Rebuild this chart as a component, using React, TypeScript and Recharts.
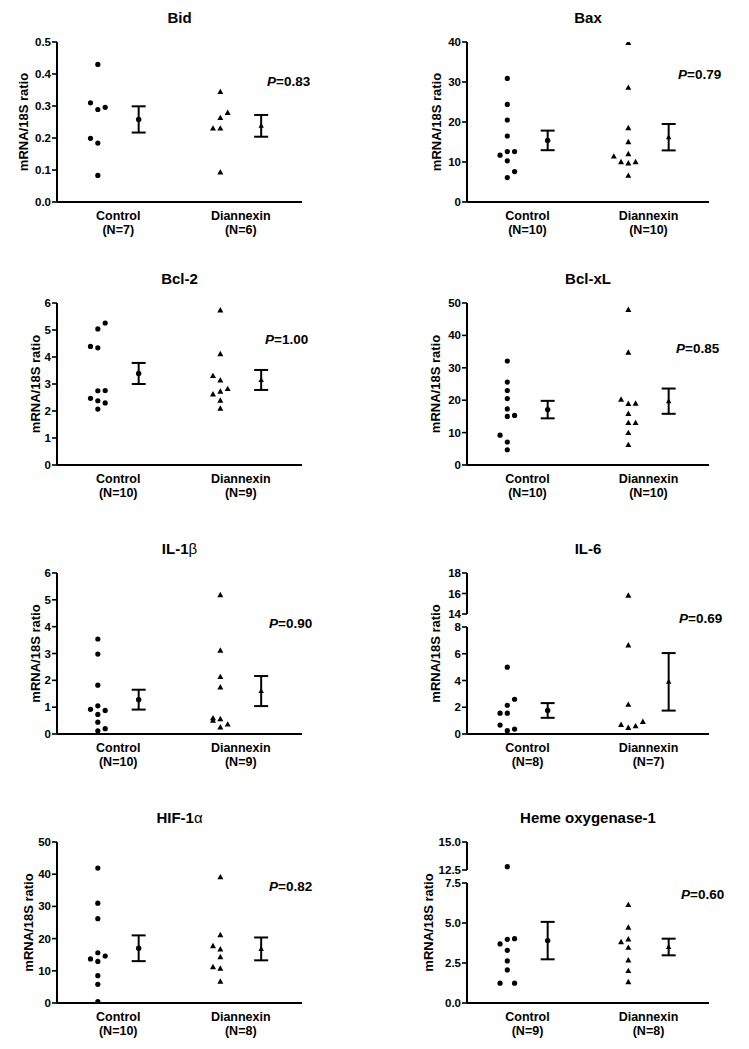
import React from "react";
import { ScatterChart, Scatter, XAxis, YAxis, ErrorBar } from "recharts";

const FONT = '"Liberation Sans", Arial, Helvetica, sans-serif';

const groups = ["Control", "Diannexin"];
const titles = ["Bid", "Bax", "Bcl-2", "Bcl-xL", "IL-1β", "IL-6", "HIF-1α", "Heme oxygenase-1"];
const pValues = ["0.83", "0.79", "1.00", "0.85", "0.90", "0.69", "0.82", "0.60"];

// samples; *Slot = side-by-side column used so dots don't overlap
const bidControl = [0.43, 0.31, 0.289, 0.296, 0.199, 0.184, 0.083];
const bidControlSlot = [0, -1, 0, 1, -1, 0, 0];
const bidDiannexin = [0.344, 0.263, 0.279, 0.23, 0.23, 0.093];
const bidDiannexinSlot = [0, 0, 1, -1, 0, 0];
const bidMean = [0.258, 0.238];
const bidSem = [0.041, 0.034];
const bidTicks = [0, 0.1, 0.2, 0.3, 0.4, 0.5];

const baxControl = [30.9, 24.4, 20.5, 16.5, 12.6, 12.6, 11.7, 10.3, 7.6, 6.1];
const baxControlSlot = [0, 0, 0, 0, 0, 1, -1, 0, 1, 0];
const baxDiannexin = [39.8, 28.6, 18.5, 15.0, 12.0, 11.4, 10.0, 10.0, 9.7, 6.6];
const baxDiannexinSlot = [0, 0, 0, 0, 0, -2, -1, 1, 0, 0];
const baxMean = [15.4, 16.2];
const baxSem = [2.45, 3.3];
const baxTicks = [0, 10, 20, 30, 40];

const bcl2Control = [5.26, 5.04, 4.39, 4.34, 2.75, 2.76, 2.47, 2.38, 2.3, 2.07];
const bcl2ControlSlot = [1, 0, -1, 0, 0, 1, -1, 0, 1, 0];
const bcl2Diannexin = [5.73, 4.11, 3.3, 3.14, 2.62, 2.72, 2.82, 2.39, 2.09];
const bcl2DiannexinSlot = [0, 0, -1, 0, -1, 0, 1, 0, 0];
const bcl2Mean = [3.39, 3.15];
const bcl2Sem = [0.39, 0.37];
const bcl2Ticks = [0, 1, 2, 3, 4, 5, 6];

const bclxlControl = [32.1, 25.6, 23.0, 20.5, 17.3, 15.0, 15.3, 9.2, 7.1, 4.7];
const bclxlControlSlot = [0, 0, 0, 0, 0, 0, 1, -1, 0, 0];
const bclxlDiannexin = [47.9, 34.7, 20.2, 18.9, 19.0, 15.8, 13.0, 13.0, 9.9, 6.2];
const bclxlDiannexinSlot = [0, 0, -1, 0, 1, 0, 0, 1, 0, 0];
const bclxlMean = [17.1, 19.7];
const bclxlSem = [2.7, 3.9];
const bclxlTicks = [0, 10, 20, 30, 40, 50];

const il1bControl = [3.54, 2.98, 1.82, 1.05, 0.92, 0.88, 0.73, 0.44, 0.2, 0.12];
const il1bControlSlot = [0, 0, 0, 0, -1, 1, 0, 0, 1, 0];
const il1bDiannexin = [5.18, 3.11, 2.13, 1.74, 0.59, 0.5, 0.56, 0.36, 0.25];
const il1bDiannexinSlot = [0, 0, 0, 0, -1, -1, 0, 1, 0];
const il1bMean = [1.28, 1.6];
const il1bSem = [0.37, 0.56];
const il1bTicks = [0, 1, 2, 3, 4, 5, 6];

const il6Control = [5.0, 2.6, 2.15, 1.56, 1.56, 0.67, 0.25, 0.37];
const il6ControlSlot = [0, 1, 0, -1, 0, -1, 0, 1];
const il6Diannexin = [15.8, 6.64, 2.2, 0.69, 0.47, 0.59, 0.92];
const il6DiannexinSlot = [0, 0, 0, -1, 0, 1, 2];
const il6Mean = [1.76, 3.9];
const il6Sem = [0.55, 2.15];
const il6Ticks = [0, 2, 4, 6, 8];
const il6TicksHigh = [14, 16, 18];

const hifControl = [41.9, 31.0, 26.2, 15.6, 14.6, 13.7, 12.9, 8.5, 5.8, 0.4];
const hifControlSlot = [0, 0, 0, 0, 1, -1, 0, 0, 0, 0];
const hifDiannexin = [39.1, 21.1, 17.7, 16.7, 14.3, 11.2, 10.7, 6.7];
const hifDiannexinSlot = [0, 0, -1, 0, 0, -1, 0, 0];
const hifMean = [17.0, 16.8];
const hifSem = [4.0, 3.55];
const hifTicks = [0, 10, 20, 30, 40, 50];

const hemeControl = [12.8, 4.02, 3.98, 3.69, 3.29, 2.63, 2.07, 1.24, 1.24];
const hemeControlSlot = [0, 1, 0, -1, 0, 0, 0, -1, 1];
const hemeDiannexin = [6.13, 4.72, 3.81, 3.98, 3.46, 2.67, 2.01, 1.31];
const hemeDiannexinSlot = [0, 0, -1, 0, 0, 0, 0, 0];
const hemeMean = [3.9, 3.5];
const hemeSem = [1.17, 0.52];
const hemeTicks = [0, 2.5, 5, 7.5];
const hemeTicksHigh = [12.5, 15];

const panels = [
  { ctrl: bidControl, ctrlSlot: bidControlSlot, dian: bidDiannexin, dianSlot: bidDiannexinSlot, mean: bidMean, sem: bidSem, ticks: bidTicks, dec: 1 },
  { ctrl: baxControl, ctrlSlot: baxControlSlot, dian: baxDiannexin, dianSlot: baxDiannexinSlot, mean: baxMean, sem: baxSem, ticks: baxTicks, dec: 0 },
  { ctrl: bcl2Control, ctrlSlot: bcl2ControlSlot, dian: bcl2Diannexin, dianSlot: bcl2DiannexinSlot, mean: bcl2Mean, sem: bcl2Sem, ticks: bcl2Ticks, dec: 0 },
  { ctrl: bclxlControl, ctrlSlot: bclxlControlSlot, dian: bclxlDiannexin, dianSlot: bclxlDiannexinSlot, mean: bclxlMean, sem: bclxlSem, ticks: bclxlTicks, dec: 0 },
  { ctrl: il1bControl, ctrlSlot: il1bControlSlot, dian: il1bDiannexin, dianSlot: il1bDiannexinSlot, mean: il1bMean, sem: il1bSem, ticks: il1bTicks, dec: 0 },
  { ctrl: il6Control, ctrlSlot: il6ControlSlot, dian: il6Diannexin, dianSlot: il6DiannexinSlot, mean: il6Mean, sem: il6Sem, ticks: il6Ticks, hiTicks: il6TicksHigh, dec: 0 },
  { ctrl: hifControl, ctrlSlot: hifControlSlot, dian: hifDiannexin, dianSlot: hifDiannexinSlot, mean: hifMean, sem: hifSem, ticks: hifTicks, dec: 0 },
  { ctrl: hemeControl, ctrlSlot: hemeControlSlot, dian: hemeDiannexin, dianSlot: hemeDiannexinSlot, mean: hemeMean, sem: hemeSem, ticks: hemeTicks, hiTicks: hemeTicksHigh, dec: 1 },
];

// layout (page pixels)
const ROW_TOP = [42, 303, 573, 842];
const ROW_BOTTOM = [202, 465, 734, 1003];
const COL_LEFT = [0, 374];
const COL_WIDTH = [374, 375];
const AXIS_X = [57, 467];
const PLOT_RIGHT = [302, 709];
const LABEL_X = [23.5, 436.5, 35, 435.5, 35, 435, 28, 428];
const P_POS = [[267, 85.5], [678, 78.5], [265, 343.5], [676, 352.5], [269, 628], [679, 622.5], [269, 891], [681, 899]];
const BREAKS: Record<number, { hiBottom: number; loTop: number }> = {
  5: { hiBottom: 614, loTop: 627 },
  7: { hiBottom: 870, loTop: 883 },
};

const SLOT = 0.18;
const AXIS = { stroke: "#000", strokeWidth: 2 };

type Pt = { x: number; y: number; err?: number };

const toPts = (vals: number[], slots: number[], center: number): Pt[] =>
  vals.map((v, i) => ({ x: center + slots[i] * SLOT, y: v }));

const Dot = (p: any) => <circle cx={p.cx} cy={p.cy} r={2.6} fill="#000" />;
const Tri = (p: any) => (
  <polygon points={`${p.cx},${p.cy - 3.2} ${p.cx + 3},${p.cy + 2.2} ${p.cx - 3},${p.cy + 2.2}`} fill="#000" />
);
const MeanDot = (p: any) => <circle cx={p.cx} cy={p.cy} r={2.7} fill="#000" />;
const MeanTri = (p: any) => (
  <polygon points={`${p.cx},${p.cy - 3} ${p.cx + 2.7},${p.cy + 2} ${p.cx - 2.7},${p.cy + 2}`} fill="#000" />
);

function XTick(props: any) {
  const { x, y, payload, n } = props;
  const i = payload.value < 3 ? 0 : 1;
  return (
    <g>
      <text x={x} y={y + 18} textAnchor="middle" fontSize={12.5} fontWeight={700} fill="#000">
        {groups[i]}
      </text>
      <text x={x} y={y + 32} textAnchor="middle" fontSize={12.5} fontWeight={700} fill="#000">
        (N={n[i]})
      </text>
    </g>
  );
}

interface PlotProps {
  col: number;
  top: number;
  bottom: number;
  ticks: number[];
  dec: number;
  ctrl: Pt[];
  dian: Pt[];
  means?: Pt[];
  showX: boolean;
  n: number[];
}

function Plot({ col, top, bottom, ticks, dec, ctrl, dian, means, showX, n }: PlotProps) {
  const mTop = 10;
  const xH = showX ? 45 : 0;
  const mBottom = showX ? 0 : 8;
  const h = bottom - top + mTop + xH + mBottom;
  return (
    <div style={{ position: "absolute", left: COL_LEFT[col], top: top - mTop }}>
      <ScatterChart
        width={COL_WIDTH[col]}
        height={h}
        margin={{ top: mTop, right: COL_LEFT[col] + COL_WIDTH[col] - PLOT_RIGHT[col], bottom: mBottom, left: 0 }}
      >
        <XAxis
          type="number"
          dataKey="x"
          domain={[0, 6]}
          ticks={[1.5, 4.5]}
          hide={!showX}
          height={xH}
          tickSize={0}
          tickMargin={0}
          tickLine={false}
          axisLine={AXIS}
          tick={(p: any) => <XTick {...p} n={n} />}
          allowDataOverflow
        />
        <YAxis
          type="number"
          dataKey="y"
          domain={[ticks[0], ticks[ticks.length - 1]]}
          ticks={ticks}
          interval={0}
          width={AXIS_X[col] - COL_LEFT[col]}
          tickSize={5}
          tickMargin={1}
          axisLine={AXIS}
          tickLine={{ stroke: "#000", strokeWidth: 1.6 }}
          tick={{ fontSize: 11.5, fontWeight: 700, fill: "#000" }}
          tickFormatter={(v: number) => v.toFixed(dec)}
          allowDataOverflow
        />
        <Scatter data={ctrl} shape={Dot} isAnimationActive={false} />
        <Scatter data={dian} shape={Tri} isAnimationActive={false} />
        {means && (
          <Scatter data={[means[0]]} shape={MeanDot} isAnimationActive={false}>
            <ErrorBar dataKey="err" direction="y" width={7} strokeWidth={2} stroke="#000" />
          </Scatter>
        )}
        {means && (
          <Scatter data={[means[1]]} shape={MeanTri} isAnimationActive={false}>
            <ErrorBar dataKey="err" direction="y" width={7} strokeWidth={2} stroke="#000" />
          </Scatter>
        )}
      </ScatterChart>
    </div>
  );
}

export default function App() {
  return (
    <div
      style={{
        position: "absolute",
        left: 0,
        top: 0,
        width: 749,
        height: 1049,
        background: "#fff",
        fontFamily: FONT,
        overflow: "hidden",
      }}
    >
      {panels.map((p, i) => {
        const col = i % 2;
        const row = Math.floor(i / 2);
        const ctrl = toPts(p.ctrl, p.ctrlSlot, 1);
        const dian = toPts(p.dian, p.dianSlot, 4);
        const means: Pt[] = [
          { x: 2, y: p.mean[0], err: p.sem[0] },
          { x: 5, y: p.mean[1], err: p.sem[1] },
        ];
        const n = [p.ctrl.length, p.dian.length];
        const brk = BREAKS[i];
        if (brk && p.hiTicks) {
          const loMax = p.ticks[p.ticks.length - 1];
          return (
            <React.Fragment key={i}>
              <Plot
                col={col}
                top={ROW_TOP[row]}
                bottom={brk.hiBottom}
                ticks={p.hiTicks}
                dec={p.dec}
                ctrl={ctrl.filter((d) => d.y > loMax)}
                dian={dian.filter((d) => d.y > loMax)}
                showX={false}
                n={n}
              />
              <Plot
                col={col}
                top={brk.loTop}
                bottom={ROW_BOTTOM[row]}
                ticks={p.ticks}
                dec={p.dec}
                ctrl={ctrl.filter((d) => d.y <= loMax)}
                dian={dian.filter((d) => d.y <= loMax)}
                means={means}
                showX
                n={n}
              />
            </React.Fragment>
          );
        }
        return (
          <Plot
            key={i}
            col={col}
            top={ROW_TOP[row]}
            bottom={ROW_BOTTOM[row]}
            ticks={p.ticks}
            dec={p.dec}
            ctrl={ctrl}
            dian={dian}
            means={means}
            showX
            n={n}
          />
        );
      })}

      {/* titles, y labels, P values */}
      <svg width={749} height={1049} style={{ position: "absolute", left: 0, top: 0, pointerEvents: "none" }}>
        {titles.map((t, i) => {
          const col = i % 2;
          const row = Math.floor(i / 2);
          const cx = (AXIS_X[col] + PLOT_RIGHT[col]) / 2;
          const cy = (ROW_TOP[row] + ROW_BOTTOM[row]) / 2;
          const greek = /[αβ]$/.test(t);
          return (
            <g key={t}>
              <text x={cx} y={ROW_TOP[row] - 19} textAnchor="middle" fontSize={15} fontWeight={700} fill="#000">
                {greek ? t.slice(0, -1) : t}
                {greek && <tspan fontWeight={400}>{t.slice(-1)}</tspan>}
              </text>
              <text
                x={LABEL_X[i]}
                y={cy}
                transform={`rotate(-90 ${LABEL_X[i]} ${cy})`}
                textAnchor="middle"
                dominantBaseline="central"
                fontSize={13}
                fontWeight={700}
                fill="#000"
              >
                mRNA/18S ratio
              </text>
              <text x={P_POS[i][0]} y={P_POS[i][1]} fontSize={13.5} fontWeight={700} fill="#000">
                <tspan fontStyle="italic">P</tspan>={pValues[i]}
              </text>
            </g>
          );
        })}
      </svg>
    </div>
  );
}
